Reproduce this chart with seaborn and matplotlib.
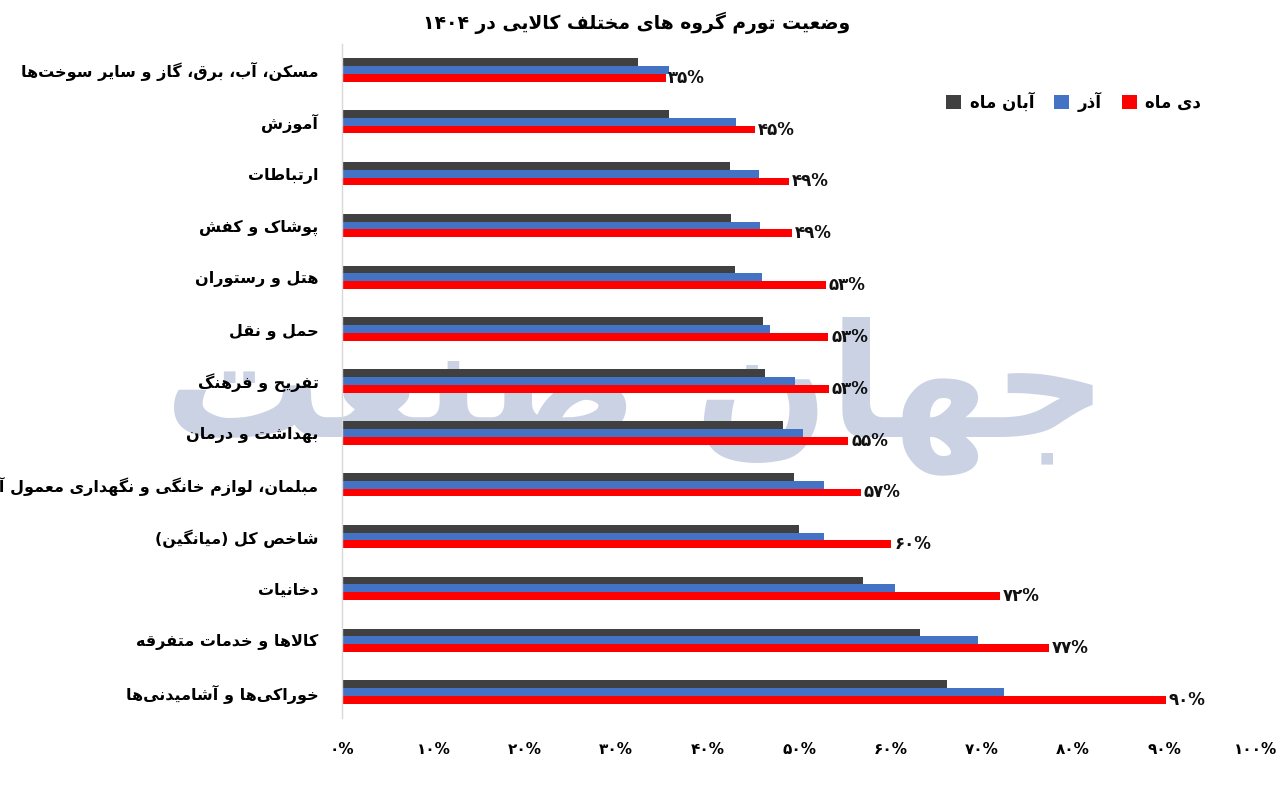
import re
import numpy as np
import pandas as pd
import matplotlib
matplotlib.use("Agg")
import matplotlib.pyplot as plt
import seaborn as sns

# ---------------- data ----------------
categories = [
    "مسکن، آب، برق، گاز و سایر سوخت‌ها",
    "آموزش",
    "ارتباطات",
    "پوشاک و کفش",
    "هتل و رستوران",
    "حمل و نقل",
    "تفریح و فرهنگ",
    "بهداشت و درمان",
    "مبلمان، لوازم خانگی و نگهداری معمول آن‌ها",
    "شاخص کل (میانگین)",
    "دخانیات",
    "کالاها و خدمات متفرقه",
    "خوراکی‌ها و آشامیدنی‌ها",
]
series_names = ["آبان ماه", "آذر", "دی ماه"]
aban = [32.4, 35.8, 42.5, 42.6, 43.0, 46.1, 46.3, 48.2, 49.5, 50.0, 57.0, 63.2, 66.2]
azar = [35.8, 43.1, 45.6, 45.7, 45.9, 46.8, 49.6, 50.4, 52.7, 52.7, 60.5, 69.6, 72.4]
dey = [35.4, 45.2, 48.9, 49.2, 52.9, 53.2, 53.3, 55.4, 56.8, 60.1, 72.0, 77.4, 90.1]
dey_labels = [35, 45, 49, 49, 53, 53, 53, 55, 57, 60, 72, 77, 90]
x_ticks = [0, 10, 20, 30, 40, 50, 60, 70, 80, 90, 100]
title = "وضعیت تورم گروه های مختلف کالایی در ۱۴۰۴"
watermark = "جهان صنعت"
colors = ["#404040", "#4472C4", "#FF0000"]

# ---------------- simple Persian shaping ----------------
def _d(b):
    return (b, b + 1, b + 2, b + 3)

_F = {
    "\u0627": (0xFE8D, 0xFE8E, None, None),
    "\u0622": (0xFE81, 0xFE82, None, None),
    "\u0628": _d(0xFE8F),
    "\u067E": _d(0xFB56),
    "\u062A": _d(0xFE95),
    "\u062B": _d(0xFE99),
    "\u062C": _d(0xFE9D),
    "\u0686": _d(0xFB7A),
    "\u062D": _d(0xFEA1),
    "\u062E": _d(0xFEA5),
    "\u062F": (0xFEA9, 0xFEAA, None, None),
    "\u0630": (0xFEAB, 0xFEAC, None, None),
    "\u0631": (0xFEAD, 0xFEAE, None, None),
    "\u0632": (0xFEAF, 0xFEB0, None, None),
    "\u0698": (0xFB8A, 0xFB8B, None, None),
    "\u0633": _d(0xFEB1),
    "\u0634": _d(0xFEB5),
    "\u0635": _d(0xFEB9),
    "\u0636": _d(0xFEBD),
    "\u0637": _d(0xFEC1),
    "\u0638": _d(0xFEC5),
    "\u0639": _d(0xFEC9),
    "\u063A": _d(0xFECD),
    "\u0641": _d(0xFED1),
    "\u0642": _d(0xFED5),
    "\u06A9": _d(0xFB8E),
    "\u0643": _d(0xFED9),
    "\u06AF": _d(0xFB92),
    "\u0644": _d(0xFEDD),
    "\u0645": _d(0xFEE1),
    "\u0646": _d(0xFEE5),
    "\u0647": _d(0xFEE9),
    "\u0648": (0xFEED, 0xFEEE, None, None),
    "\u06CC": _d(0xFBFC),
    "\u064A": _d(0xFEF1),
}
_LAMALEF = {"\u0627": (0xFEFB, 0xFEFC), "\u0622": (0xFEF5, 0xFEF6)}


def _dual(c):
    return c in _F and _F[c][2] is not None


def shape(s):
    out = []
    n = len(s)
    i = 0
    while i < n:
        c = s[i]
        if c == "\u200c":
            i += 1
            continue
        if c not in _F:
            out.append(c)
            i += 1
            continue
        prev = s[i - 1] if i > 0 else ""
        cp = _dual(prev)
        if c == "\u0644" and i + 1 < n and s[i + 1] in _LAMALEF:
            lig = _LAMALEF[s[i + 1]]
            out.append(chr(lig[1] if cp else lig[0]))
            i += 2
            continue
        nxt = s[i + 1] if i + 1 < n else ""
        cn = _dual(c) and nxt in _F
        f = _F[c]
        if cp and cn:
            g = f[3]
        elif cp:
            g = f[1]
        elif cn:
            g = f[2]
        else:
            g = f[0]
        out.append(chr(g))
        i += 1
    vis = "".join(out)[::-1]
    vis = re.sub(r"[0-9\u06F0-\u06F9]+", lambda m: m.group(0)[::-1], vis)
    vis = vis.translate(str.maketrans("()", ")("))
    return vis


def fa_num(v):
    return str(v).translate(str.maketrans("0123456789", "۰۱۲۳۴۵۶۷۸۹"))


# ---------------- build frame ----------------
cat_disp = [shape(c) for c in categories]
ser_disp = [shape(s) for s in series_names]
rows = []
for sname, vals in zip(ser_disp, [aban, azar, dey]):
    for c, v in zip(cat_disp, vals):
        rows.append({"cat": c, "series": sname, "value": v})
df = pd.DataFrame(rows)

sns.set_style("white")
plt.rcParams["font.family"] = ["DejaVu Sans"]
plt.rcParams["font.weight"] = "bold"
for k in ["text.color", "axes.labelcolor", "xtick.color", "ytick.color"]:
    plt.rcParams[k] = "#000000"

fig = plt.figure(figsize=(12.78, 8), dpi=100)
ax = fig.add_axes([0.2676, 0.1025, 0.7152, 0.8425])
ax.set_facecolor("none")

# watermark
fig.text(0.497, 0.505, shape(watermark), fontsize=114, fontweight="bold",
         color="#cad2e4", ha="center", va="center", zorder=-5)

sns.barplot(data=df, y="cat", x="value", hue="series", order=cat_disp,
            hue_order=ser_disp, palette=colors, saturation=1, width=0.45,
            orient="h", ax=ax, legend=True, errorbar=None, linewidth=0)

ax.bar_label(ax.containers[2], labels=[fa_num(v) + "%" for v in dey_labels],
             padding=2, fontsize=12, fontweight="bold", color="#111111")

ax.set_xlim(0, 100)
ax.set_xticks(x_ticks)
ax.set_xticklabels([fa_num(t) + "%" for t in x_ticks], fontsize=11,
                   fontweight="bold")
ax.tick_params(axis="x", length=0, pad=17)
ax.tick_params(axis="y", length=0, pad=17, labelsize=11.5)
for lab in ax.get_yticklabels():
    lab.set_fontweight("bold")
ax.set_xlabel("")
ax.set_ylabel("")
for s in ["top", "right", "bottom"]:
    ax.spines[s].set_visible(False)
ax.spines["left"].set_color("#d9d9d9")
ax.spines["left"].set_linewidth(1)
ax.grid(False)

fig.suptitle(shape(title), x=0.498, y=0.985, fontsize=13.5, fontweight="bold")

handles, labels = ax.get_legend_handles_labels()
ax.legend(handles, labels, ncol=3, loc="center right",
          bbox_to_anchor=(1216 / 1278, 1 - 102 / 800),
          bbox_transform=fig.transFigure, frameon=False,
          handlelength=0.9, handleheight=0.9, handletextpad=0.5,
          columnspacing=1.2, prop={"weight": "bold", "size": 12})

fig.savefig("out.png", dpi=100)
